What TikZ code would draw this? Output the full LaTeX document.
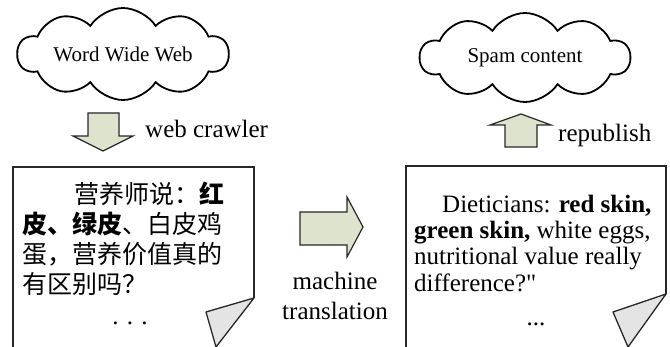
\documentclass[tikz,border=0pt]{standalone}
\usepackage{fontspec}
\setmainfont{Liberation Serif}
\newfontfamily\cjk{Noto Sans CJK SC}
\usetikzlibrary{shapes.symbols}
\definecolor{arrowfill}{RGB}{221,227,204}
\definecolor{curlfill}{RGB}{228,228,228}
\definecolor{inkline}{RGB}{40,40,40}
\begin{document}
\begin{tikzpicture}[x=1pt,y=-1pt,
  cloudnode/.style={cloud, cloud puffs=10, cloud puff arc=115, cloud ignores aspect,
    draw=black, line width=1.8pt, inner sep=0pt, font=\fontsize{21}{24}\selectfont},
  blockarrow/.style={draw=inkline, line width=1.2pt, fill=arrowfill, line join=miter},
  page/.style={draw=inkline, line width=1.4pt},
  curl/.style={draw=black!85, line width=1.3pt, fill=curlfill, line join=round},
  body/.style={font=\fontsize{25}{26}\selectfont, anchor=base west, inner sep=0pt},
  zh/.style={font=\cjk\fontsize{25}{30}\selectfont, anchor=base west, inner sep=0pt},
  lbl/.style={font=\fontsize{25}{26}\selectfont, inner sep=0pt}]
\useasboundingbox (0,0) rectangle (670,347);

% clouds
\node[cloudnode, minimum width=211pt, minimum height=92pt] (www) at (123,54) {Word Wide Web};
\node[cloudnode, minimum width=210pt, minimum height=89pt] (spam) at (525,57.5) {Spam content};

% block arrows
\draw[blockarrow] (88,113) -- (119,113) -- (119,136) -- (133,136) -- (103,151)
  -- (73,136) -- (88,136) -- cycle;
\draw[blockarrow] (505,147) -- (537,147) -- (537,125) -- (551,125) -- (521,114)
  -- (490,125) -- (505,125) -- cycle;
\draw[blockarrow] (300,212) -- (347,212) -- (347,197) -- (363,227) -- (347,257)
  -- (347,245) -- (300,245) -- cycle;

% arrow labels
\node[lbl, anchor=base west] (crawl) at (145,138) {web crawler};
\node[lbl, anchor=base west] (repub) at (558,142) {republish};
\node[lbl, anchor=base] (mt1) at (335,290) {machine};
\node[lbl, anchor=base] (mt2) at (335,320) {translation};

% left page with curled corner
\draw[page] (13,347) -- (13,167) -- (254,167) -- (254,298);
\draw[curl] (254,298) -- (206,312) -- (216,347) -- cycle;

% right page with curled corner
\draw[page] (406,347) -- (406,166) -- (666,166) -- (666,294);
\draw[curl] (666,294) -- (613,312) -- (628,347) -- cycle;

% original text
\node[zh] (zh1) at (74,204) {营养师说：\textbf{红}};
\node[zh] (zh2) at (22,234) {\textbf{皮、绿皮}、白皮鸡};
\node[zh] (zh3) at (22,264) {蛋，营养价值真的};
\node[zh] (zh4) at (22,294) {有区别吗？};
\node[body, anchor=base] (zhdots) at (130,325) {. . .};

% translated text
\node[body] (en1) at (442,213) {Dieticians: \textbf{red skin,}};
\node[body] (en2) at (414,239) {\textbf{green skin,} white eggs,};
\node[body] (en3) at (414,265) {nutritional value really};
\node[body] (en4) at (414,292) {difference?\textquotedbl};
\node[body, anchor=base] (endots) at (536,326) {...};
\end{tikzpicture}
\end{document}
